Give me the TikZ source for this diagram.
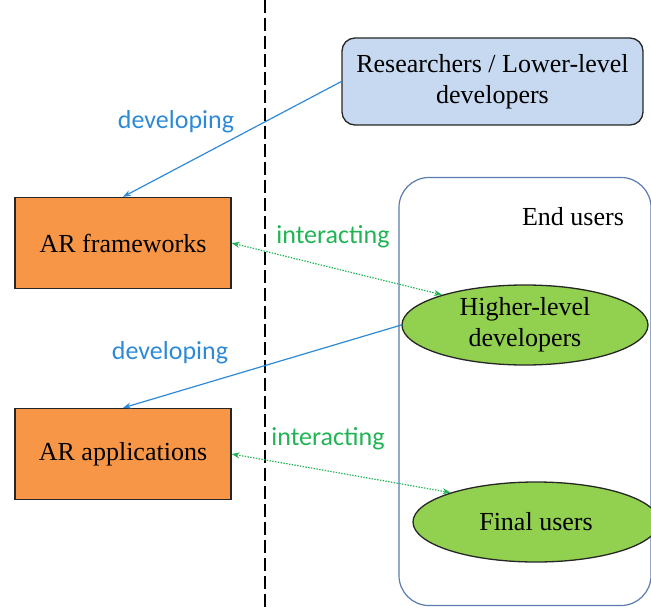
\documentclass[tikz,border=0pt]{standalone}
\usepackage{fontspec}
\setmainfont{Liberation Serif}
\newfontfamily\labelfont{Carlito}
\usetikzlibrary{arrows.meta,shapes.geometric}

\definecolor{boxorange}{HTML}{F79646}
\definecolor{boxblue}{HTML}{C6D9F1}
\definecolor{ellgreen}{HTML}{92D050}
\definecolor{devblue}{HTML}{2E8AD6}
\definecolor{intgreen}{HTML}{21B455}
\definecolor{groupedge}{HTML}{5A7BAE}

\tikzset{
  body/.style={font=\fontsize{26}{31}\selectfont, text=black, align=center},
  lbl/.style={font=\labelfont\fontsize{26}{30}\selectfont},
  framebox/.style={body, draw=black!85, line width=1.3pt, fill=boxorange,
    minimum width=216pt, minimum height=91pt, inner sep=0pt},
  userell/.style={body, ellipse, draw=black!85, line width=1.3pt, fill=ellgreen,
    minimum width=246pt, minimum height=80pt, inner sep=0pt},
  dev/.style={draw=devblue, line width=1.2pt, -{Stealth[length=8pt,width=6pt]}},
  inter/.style={draw=intgreen, line width=1.2pt, dash pattern=on 1.4pt off 1.4pt,
    {Stealth[length=8pt,width=6pt]}-{Stealth[length=8pt,width=6pt]}},
}

\begin{document}
\begin{tikzpicture}[x=1pt,y=-1pt]
\useasboundingbox (0,0) rectangle (651,610);
\clip (0,0) rectangle (651,610);

% separator
\draw[black, line width=1.5pt, dash pattern=on 13pt off 5pt] (265,0) -- (265,610);

% end-user group
\node[draw=groupedge, line width=1.2pt, rounded corners=30pt, minimum width=252pt,
      minimum height=428pt, inner sep=0pt] (group) at (525,391.5) {};
\node[body] (grouptitle) at (573,217) {End users};

% actors
\node[body, draw=black!85, line width=1.3pt, fill=boxblue, rounded corners=13pt,
      minimum width=301pt, minimum height=87pt, inner sep=0pt] (res) at (492.5,81.5)
      {Researchers / Lower-level\\developers};
\node[framebox] (fw) at (123,243) {AR frameworks};
\node[framebox] (app) at (123,454) {AR applications};
\node[userell] (higher) at (525,325) {Higher-level\\developers};
\node[userell] (final) at (536,522) {Final users};

% relations
\draw[dev] (res.west) -- (fw.north);
\draw[dev] (higher.west) -- (app.north);
\draw[inter] (fw.east) -- (higher.160);
\draw[inter] (app.east) -- (final.161);

\node[lbl, text=devblue] (dev1) at (176,122) {developing};
\node[lbl, text=devblue] (dev2) at (170,353) {developing};
\node[lbl, text=intgreen] (int1) at (333,237) {interacting};
\node[lbl, text=intgreen] (int2) at (328,439) {interacting};
\end{tikzpicture}
\end{document}
